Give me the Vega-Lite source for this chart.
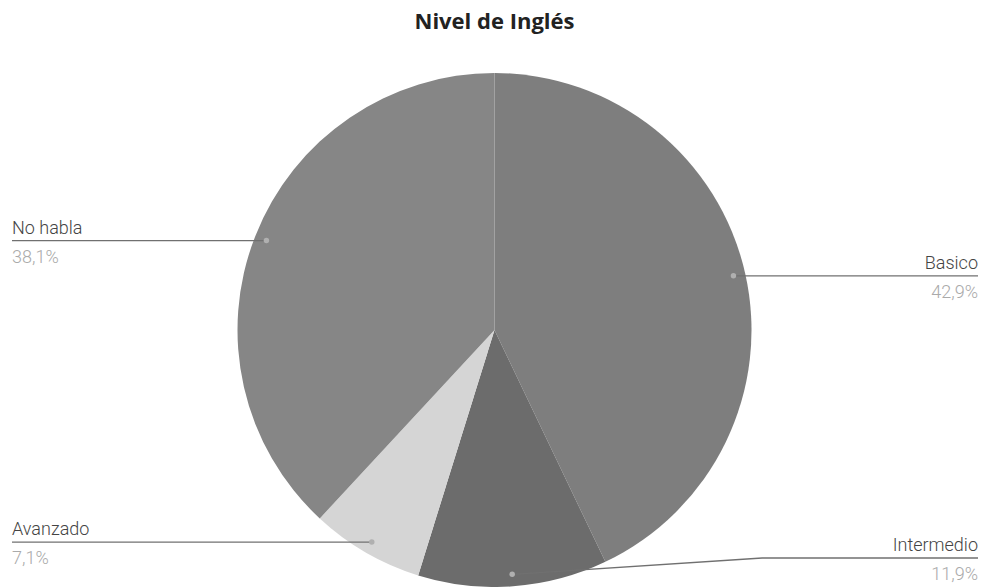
{
  "$schema": "https://vega.github.io/schema/vega-lite/v6.json",
  "width": 977,
  "height": 514,
  "autosize": {"type": "none"},
  "padding": {"left": 6, "top": 73, "right": 0, "bottom": 0},
  "background": "white",
  "title": {"text": "Nivel de Inglés", "font": "Open Sans", "fontSize": 22, "fontWeight": "bold", "color": "#222222", "anchor": "middle", "baseline": "alphabetic", "offset": 22},
  "config": {"view": {"stroke": null}},
  "data": {"values": [
    {"nivel": "Basico", "valor": 42.9, "orden": 1},
    {"nivel": "Intermedio", "valor": 11.9, "orden": 2},
    {"nivel": "Avanzado", "valor": 7.1, "orden": 3},
    {"nivel": "No habla", "valor": 38.1, "orden": 4}
  ]},
  "transform": [
    {"window": [{"op": "sum", "field": "valor", "as": "cum"}], "sort": [{"field": "orden"}]},
    {"calculate": "2*PI*(datum.cum - datum.valor/2)/100", "as": "mid"},
    {"calculate": "488.5 + 245*sin(datum.mid)", "as": "dotx"},
    {"calculate": "257 - 245*cos(datum.mid)", "as": "doty"},
    {"calculate": "datum.dotx < 488.5 ? -1 : 1", "as": "side"},
    {"calculate": "datum.side < 0 ? 6 : 972", "as": "edgex"},
    {"calculate": "min(datum.doty, 485)", "as": "liney"},
    {"calculate": "datum.side > 0 ? min(datum.dotx + 250, datum.edgex) : max(datum.dotx - 250, datum.edgex)", "as": "elbowx"},
    {"calculate": "replace(format(datum.valor, '.1f'), '.', ',') + '%'", "as": "pct"}
  ],
  "layer": [
    {
      "mark": {"type": "arc"},
      "encoding": {
        "theta": {"field": "valor", "type": "quantitative", "stack": true},
        "order": {"field": "orden", "type": "quantitative"},
        "color": {"field": "nivel", "type": "nominal", "scale": {"domain": ["Basico", "Intermedio", "Avanzado", "No habla"], "range": ["#7e7e7e", "#6c6c6c", "#d5d5d5", "#868686"]}, "legend": null}
      }
    },
    {
      "transform": [
        {"fold": ["dotx", "elbowx", "edgex"], "as": ["k", "px"]},
        {"calculate": "datum.k == 'dotx' ? datum.doty : datum.liney", "as": "py"},
        {"calculate": "indexof(['dotx','elbowx','edgex'], datum.k)", "as": "step"}
      ],
      "mark": {"type": "line", "color": "#707070", "strokeWidth": 1.3},
      "encoding": {
        "x": {"field": "px", "type": "quantitative", "scale": {"domain": [0, 977], "nice": false, "zero": false}, "axis": null},
        "y": {"field": "py", "type": "quantitative", "scale": {"domain": [0, 514], "nice": false, "zero": false, "reverse": true}, "axis": null},
        "detail": {"field": "nivel"},
        "order": {"field": "step", "type": "quantitative"}
      }
    },
    {
      "mark": {"type": "circle", "color": "#b0b0b0", "opacity": 1, "size": 30},
      "encoding": {
        "x": {"field": "dotx", "type": "quantitative", "scale": {"domain": [0, 977], "nice": false, "zero": false}, "axis": null},
        "y": {"field": "doty", "type": "quantitative", "scale": {"domain": [0, 514], "nice": false, "zero": false, "reverse": true}, "axis": null}
      }
    },
    {
      "transform": [{"filter": "datum.side < 0"}],
      "mark": {"type": "text", "align": "left", "baseline": "alphabetic", "dy": -7, "font": "Roboto", "fontSize": 18, "fontWeight": 300, "color": "#444444"},
      "encoding": {
        "x": {"field": "edgex", "type": "quantitative", "scale": {"domain": [0, 977], "nice": false, "zero": false}, "axis": null},
        "y": {"field": "liney", "type": "quantitative", "scale": {"domain": [0, 514], "nice": false, "zero": false, "reverse": true}, "axis": null},
        "text": {"field": "nivel"}
      }
    },
    {
      "transform": [{"filter": "datum.side > 0"}],
      "mark": {"type": "text", "align": "right", "baseline": "alphabetic", "dy": -7, "font": "Roboto", "fontSize": 18, "fontWeight": 300, "color": "#444444"},
      "encoding": {
        "x": {"field": "edgex", "type": "quantitative", "scale": {"domain": [0, 977], "nice": false, "zero": false}, "axis": null},
        "y": {"field": "liney", "type": "quantitative", "scale": {"domain": [0, 514], "nice": false, "zero": false, "reverse": true}, "axis": null},
        "text": {"field": "nivel"}
      }
    },
    {
      "transform": [{"filter": "datum.side < 0"}],
      "mark": {"type": "text", "align": "left", "baseline": "alphabetic", "dy": 22, "font": "Roboto", "fontSize": 18, "fontWeight": 300, "color": "#aaaaaa"},
      "encoding": {
        "x": {"field": "edgex", "type": "quantitative", "scale": {"domain": [0, 977], "nice": false, "zero": false}, "axis": null},
        "y": {"field": "liney", "type": "quantitative", "scale": {"domain": [0, 514], "nice": false, "zero": false, "reverse": true}, "axis": null},
        "text": {"field": "pct"}
      }
    },
    {
      "transform": [{"filter": "datum.side > 0"}],
      "mark": {"type": "text", "align": "right", "baseline": "alphabetic", "dy": 22, "font": "Roboto", "fontSize": 18, "fontWeight": 300, "color": "#aaaaaa"},
      "encoding": {
        "x": {"field": "edgex", "type": "quantitative", "scale": {"domain": [0, 977], "nice": false, "zero": false}, "axis": null},
        "y": {"field": "liney", "type": "quantitative", "scale": {"domain": [0, 514], "nice": false, "zero": false, "reverse": true}, "axis": null},
        "text": {"field": "pct"}
      }
    }
  ]
}
